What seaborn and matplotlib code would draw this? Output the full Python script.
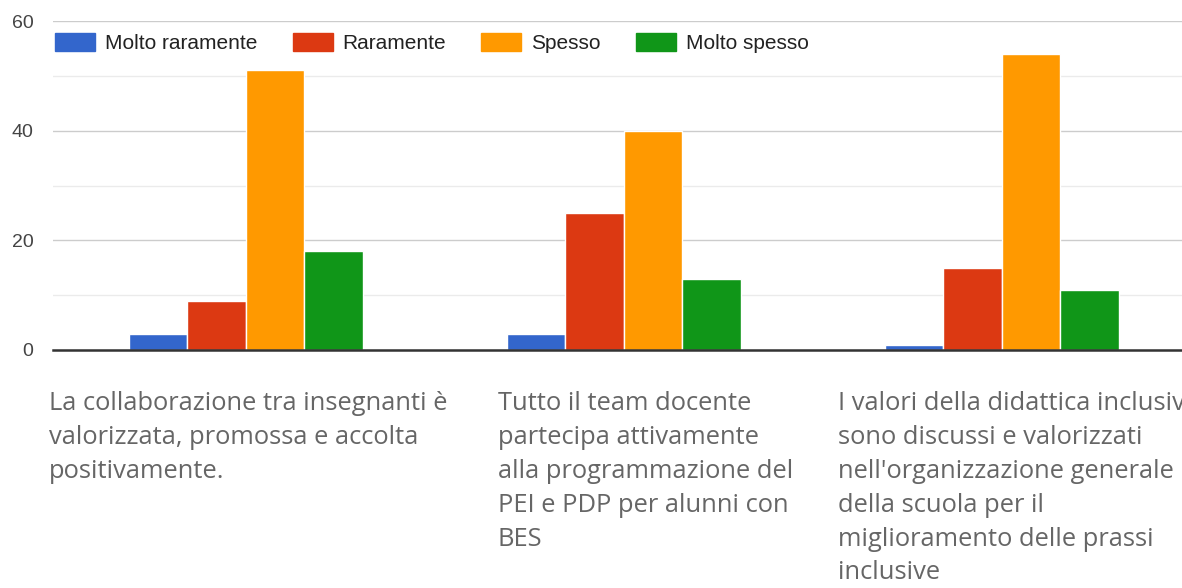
import pandas as pd
import seaborn as sns
import matplotlib.pyplot as plt
from matplotlib.ticker import MultipleLocator
import matplotlib.transforms as mtransforms

# Dati
domande = [
    "La collaborazione tra insegnanti è\nvalorizzata, promossa e accolta\npositivamente.",
    "Tutto il team docente\npartecipa attivamente\nalla programmazione del\nPEI e PDP per alunni con\nBES",
    "I valori della didattica inclusive\nsono discussi e valorizzati\nnell'organizzazione generale\ndella scuola per il\nmiglioramento delle prassi\ninclusive",
]
risposte = ["Molto raramente", "Raramente", "Spesso", "Molto spesso"]
molto_raramente = [3, 3, 1]
raramente = [9, 25, 15]
spesso = [51, 40, 54]
molto_spesso = [18, 13, 11]

colori = ["#3366cc", "#dc3912", "#ff9900", "#109618"]

righe = []
for serie, nome in zip([molto_raramente, raramente, spesso, molto_spesso], risposte):
    for i, v in enumerate(serie):
        righe.append({"domanda": i, "risposta": nome, "valore": v})
df = pd.DataFrame(righe)

fig = plt.figure(figsize=(11.82, 5.88), dpi=100)
# l'area del grafico continua oltre il bordo destro, come nell'originale
ax = fig.add_axes([53 / 1182, 238 / 588, 1140 / 1182, 329 / 588])

sns.barplot(data=df, x="domanda", y="valore", hue="risposta", hue_order=risposte,
            palette=colori, width=0.62, edgecolor="white", linewidth=1,
            saturation=1, ax=ax, zorder=3)

ax.set_xlim(-0.51, 2.506)
ax.set_ylim(0, 60)
ax.yaxis.set_major_locator(MultipleLocator(20))
ax.yaxis.set_minor_locator(MultipleLocator(10))
ax.grid(axis="y", which="major", color="#cccccc", linewidth=1, zorder=0)
ax.grid(axis="y", which="minor", color="#ebebeb", linewidth=1, zorder=0)
ax.grid(axis="x", visible=False)
ax.set_axisbelow(True)

for lato in ["top", "right", "left"]:
    ax.spines[lato].set_visible(False)
ax.spines["bottom"].set_color("#333333")
ax.spines["bottom"].set_linewidth(1.8)
ax.spines["bottom"].set_zorder(4)

ax.set_xlabel("")
ax.set_ylabel("")
ax.set_xticks([])
ax.tick_params(axis="y", which="both", length=0, pad=14, labelsize=14,
               labelcolor="#444444")
for t in ax.get_yticklabels():
    t.set_fontfamily("Liberation Sans")

# etichette delle domande sotto l'asse (la terza esce dal bordo come nell'originale)
spostamenti = [-0.52, -0.334, -0.432]
trans = mtransforms.blended_transform_factory(ax.transData, ax.transAxes)
for i, testo in enumerate(domande):
    ax.text(i + spostamenti[i], -0.124, testo, transform=trans, ha="left", va="top",
            fontsize=18.4, family="Open Sans", color="#666666", linespacing=1.47,
            clip_on=False)

leg = ax.legend(loc="center left", bbox_to_anchor=(0.002, 0.933), ncol=4,
                frameon=False, borderpad=0, borderaxespad=0, handlelength=1.92,
                handleheight=0.96, handletextpad=0.48, columnspacing=1.68,
                prop={"family": "Liberation Sans", "size": 15})
for t in leg.get_texts():
    t.set_color("#222222")
for h in leg.legend_handles:
    h.set_edgecolor(h.get_facecolor())

fig.savefig("out.png", dpi=100)
